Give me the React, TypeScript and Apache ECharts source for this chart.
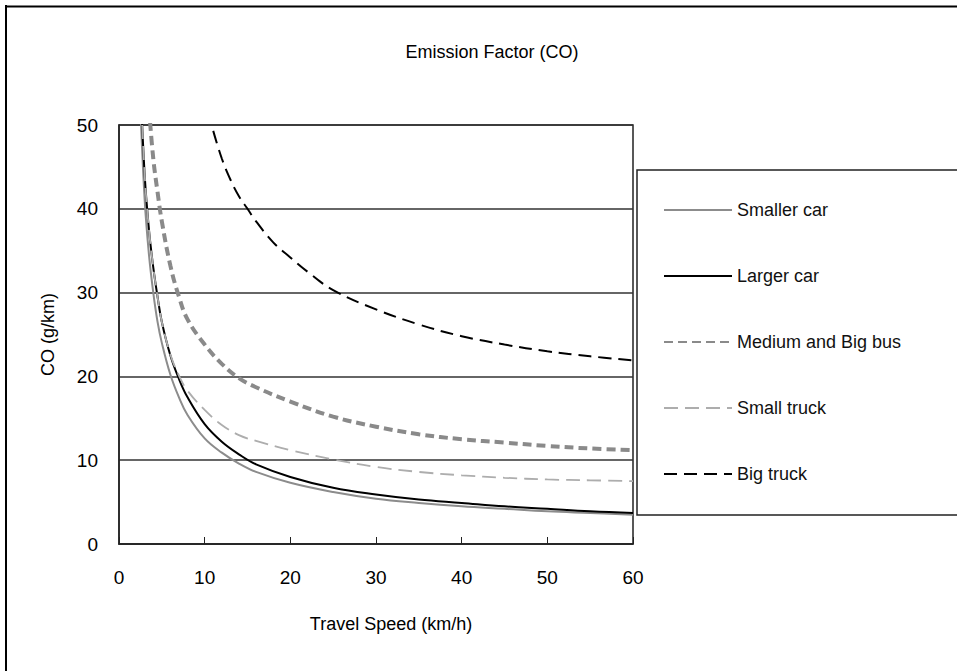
import React, { useEffect, useRef } from "react";
import * as echarts from "echarts";

const titleText = "Emission Factor (CO)";
const xTitle = "Travel Speed (km/h)";
const yTitle = "CO (g/km)";

const carSpeeds = [2.5, 3, 3.5, 4, 4.5, 5, 6, 7, 8, 10, 12, 14, 16, 20, 25, 30, 35, 40, 45, 50, 55, 60];
const smallerCar = [52, 41, 34.5, 30, 26.5, 24, 20.2, 17.5, 15.4, 12.6, 10.9, 9.6, 8.6, 7.3, 6.2, 5.4, 4.9, 4.5, 4.2, 3.9, 3.7, 3.5];
const largerCar = [55, 44, 37.5, 33, 29.5, 26.5, 22.5, 19.7, 17.5, 14.3, 12.2, 10.7, 9.5, 8.0, 6.7, 5.9, 5.3, 4.9, 4.5, 4.2, 3.9, 3.7];

const busSpeeds = [3.5, 4, 4.5, 5, 6, 7, 8, 10, 12, 14, 16, 20, 25, 30, 35, 40, 45, 50, 55, 60];
const mediumBigBus = [52, 46, 42, 38.5, 33.2, 29.5, 26.8, 23.8, 21.5, 19.8, 18.7, 17.0, 15.2, 14.0, 13.1, 12.5, 12.1, 11.7, 11.4, 11.2];

const truckSpeeds = [2.5, 3, 3.5, 4, 4.5, 5, 6, 7, 8, 10, 12, 14, 16, 20, 25, 30, 35, 40, 45, 50, 55, 60];
const smallTruck = [55, 44, 37.5, 33, 29.5, 26.5, 22.6, 20.1, 18.3, 16, 14.2, 13, 12.3, 11.2, 10.1, 9.2, 8.6, 8.2, 7.9, 7.7, 7.6, 7.5];

const bigTruckSpeeds = [11, 12, 13, 14, 15, 16, 18, 20, 22, 25, 30, 35, 40, 45, 50, 55, 60];
const bigTruck = [49.3, 46, 43.5, 41.5, 40, 38.5, 36, 34.2, 32.5, 30.3, 28, 26.2, 24.8, 23.8, 23.0, 22.4, 21.9];

const seriesNames = ["Smaller car", "Larger car", "Medium and Big bus", "Small truck", "Big truck"];

const pairs = (xs: number[], ys: number[]) => xs.map((x, i) => [x, ys[i]]);

export default function App() {
  const ref = useRef<HTMLDivElement>(null);
  useEffect(() => {
    document.body.style.margin = "0";
    if (!ref.current) return;
    const chart = echarts.init(ref.current, undefined, { renderer: "svg" });
    const font = "Liberation Sans, Arial, sans-serif";
    const mk = (name: string, data: number[][], color: string, width: number, type: any) => ({
      name,
      type: "line",
      data,
      symbol: "none",
      showSymbol: false,
      smooth: 0.4,
      clip: true,
      lineStyle: { color, width, type, cap: "butt" },
      itemStyle: { color },
    });
    chart.setOption({
      animation: false,
      backgroundColor: "#ffffff",
      textStyle: { fontFamily: font },
      title: {
        text: titleText,
        left: 487,
        top: 38,
        textAlign: "center",
        textStyle: { fontSize: 18, fontWeight: "normal", color: "#000", fontFamily: font },
      },
      grid: {
        left: 119,
        top: 125,
        right: 957 - 633,
        bottom: 671 - 544,
        show: true,
        borderColor: "#222",
        borderWidth: 1.5,
        containLabel: false,
      },
      legend: {
        orient: "vertical",
        left: 658,
        top: 196,
        itemWidth: 68,
        itemHeight: 20,
        itemGap: 48,
        data: seriesNames,
        itemStyle: { opacity: 0 },
        textStyle: { fontSize: 18, color: "#111", fontFamily: font },
      },
      xAxis: {
        type: "value",
        min: 0,
        max: 60,
        interval: 10,
        name: xTitle,
        nameLocation: "middle",
        nameGap: 71,
        nameTextStyle: { fontSize: 18, color: "#000", fontFamily: font, padding: [0, 0, 0, 30] },
        axisLine: { show: true, lineStyle: { color: "#222", width: 1.5 } },
        axisTick: { show: true, inside: true, length: 7, lineStyle: { color: "#222", width: 1 } },
        axisLabel: { fontSize: 19, color: "#000", margin: 24, fontFamily: font },
        splitLine: { show: false },
      },
      yAxis: {
        type: "value",
        min: 0,
        max: 50,
        interval: 10,
        name: yTitle,
        nameLocation: "middle",
        nameGap: 62,
        nameRotate: 90,
        nameTextStyle: { fontSize: 18, color: "#000", fontFamily: font },
        axisLine: { show: true, lineStyle: { color: "#222", width: 1.5 } },
        axisTick: { show: false },
        axisLabel: { fontSize: 19, color: "#000", margin: 21, fontFamily: font },
        splitLine: { show: true, lineStyle: { color: "#333", width: 1.5 } },
      },
      series: [
        mk(seriesNames[0], pairs(carSpeeds, smallerCar), "#8c8c8c", 2, "solid"),
        mk(seriesNames[1], pairs(carSpeeds, largerCar), "#000000", 2, "solid"),
        mk(seriesNames[2], pairs(busSpeeds, mediumBigBus), "#8a8a8a", 4, [9, 5]),
        mk(seriesNames[3], pairs(truckSpeeds, smallTruck), "#adadad", 1.8, [14, 7]),
        mk(seriesNames[4], pairs(bigTruckSpeeds, bigTruck), "#000000", 2, [13, 7]),
      ],
      graphic: [
        {
          type: "rect",
          shape: { x: 637, y: 170, width: 400, height: 345 },
          style: { fill: "none", stroke: "#222", lineWidth: 1.5 },
        },
        {
          type: "line",
          z: 100,
          shape: { x1: 5, y1: 6.5, x2: 957, y2: 6.5 },
          style: { stroke: "#000", lineWidth: 2 },
        },
        {
          type: "line",
          z: 100,
          shape: { x1: 6, y1: 5, x2: 6, y2: 671 },
          style: { stroke: "#000", lineWidth: 2 },
        },
      ],
    });
    return () => chart.dispose();
  }, []);
  return <div ref={ref} style={{ width: 957, height: 671 }} />;
}
